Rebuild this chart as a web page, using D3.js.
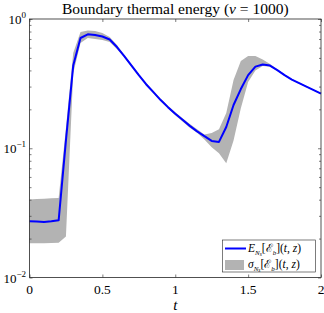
<!DOCTYPE html>
<html><head><meta charset="utf-8">
<script src="https://cdn.jsdelivr.net/npm/d3@7"></script>
<style>body{margin:0;background:#fff}svg{display:block}text{font-family:'Liberation Serif','Times New Roman',serif}</style>
</head><body>
<script>
const times = [0,0.05,0.1,0.15,0.2,0.25,0.3,0.35,0.4,0.45,0.5,0.55,0.6,0.65,0.7,0.75,0.8,0.85,0.9,0.95,1.0,1.05,1.1,1.15,1.2,1.25,1.3,1.35,1.4,1.45,1.5,1.55,1.6,1.65,1.7,1.75,1.8,1.85,1.9,1.95,2.0];
const meanE = [0.0272,0.0271,0.0269,0.0272,0.0277,0.115,0.436,0.713,0.761,0.752,0.732,0.694,0.607,0.517,0.436,0.368,0.313,0.272,0.236,0.208,0.185,0.166,0.149,0.135,0.124,0.114,0.112,0.146,0.216,0.287,0.368,0.428,0.444,0.436,0.402,0.368,0.340,0.319,0.300,0.282,0.265];
const upperE = [0.0402,0.0405,0.0406,0.041,0.0413,0.143,0.545,0.793,0.815,0.807,0.779,0.725,0.629,0.530,0.447,0.377,0.320,0.278,0.241,0.213,0.190,0.171,0.154,0.140,0.128,0.131,0.140,0.187,0.337,0.473,0.517,0.517,0.485,0.448,0.409,0.373,0.344,0.322,0.303,0.285,0.268];
const lowerE = [0.0184,0.0184,0.0184,0.0185,0.0186,0.0208,0.381,0.652,0.712,0.701,0.688,0.663,0.586,0.505,0.426,0.360,0.306,0.266,0.231,0.203,0.180,0.161,0.144,0.132,0.117,0.102,0.0915,0.0765,0.115,0.204,0.325,0.399,0.432,0.428,0.398,0.363,0.336,0.316,0.297,0.279,0.262];
const xTicks = [0,0.5,1,1.5,2];
const xTickLabels = ["0","0.5","1","1.5","2"];
const yTicks = [0.01,0.1,1];
const yTickExps = ["\u22122","\u22121","0"];

const W=324,H=313;
const L=29.5,R=321,T=19,B=277.5;
const AX='#262626';

const svg=d3.select("body").append("svg").attr("width",W).attr("height",H);
const x=d3.scaleLinear().domain([0,2]).range([L,R]);
const y=d3.scaleLog().domain([0.01,1]).range([B,T]);

const data=times.map((t,i)=>({t,m:meanE[i],u:upperE[i],l:lowerE[i]}));

svg.append("path").datum(data)
  .attr("d",d3.area().x(d=>x(d.t)).y0(d=>y(d.l)).y1(d=>y(d.u)))
  .attr("fill","#b3b3b3").attr("stroke","none");
svg.append("path").datum(data)
  .attr("d",d3.line().x(d=>x(d.t)).y(d=>y(d.m)))
  .attr("fill","none").attr("stroke","#0000ff").attr("stroke-width",2).attr("stroke-linejoin","round");

const minor=[];
for(const p of [0.01,0.1]) for(let k=2;k<=9;k++) minor.push(p*k);
function styleAxis(g){g.select(".domain").remove();g.selectAll("line").attr("stroke",AX).attr("stroke-width",0.6);}
svg.append("g").attr("transform",`translate(${L},0)`).call(d3.axisLeft(y).tickValues(minor).tickSize(-2).tickFormat("")).call(styleAxis);
svg.append("g").attr("transform",`translate(${R},0)`).call(d3.axisRight(y).tickValues(minor).tickSize(-2).tickFormat("")).call(styleAxis);
svg.append("g").attr("transform",`translate(${R},0)`).call(d3.axisRight(y).tickValues(yTicks).tickSize(-3).tickFormat("")).call(styleAxis);
svg.append("g").attr("transform",`translate(${L},0)`).call(d3.axisLeft(y).tickValues(yTicks).tickSize(-3).tickFormat("")).call(styleAxis);
yTicks.forEach((v,i)=>{
  const tx=svg.append("text").attr("x",26).attr("y",y(v)+5).attr("text-anchor","end")
    .attr("font-size",13).attr("fill","#000");
  tx.append("tspan").text("10");
  tx.append("tspan").attr("dy",-6).attr("font-size",9).text(yTickExps[i]);
});
svg.append("g").attr("transform",`translate(0,${B})`).call(d3.axisBottom(x).tickValues(xTicks).tickSize(-3).tickFormat("")).call(styleAxis);
svg.append("g").attr("transform",`translate(0,${T})`).call(d3.axisTop(x).tickValues(xTicks).tickSize(-3).tickFormat("")).call(styleAxis);
xTicks.forEach((v,i)=>{
  svg.append("text").attr("x",x(v)).attr("y",294).attr("text-anchor","middle")
    .attr("font-size",13.5).attr("fill","#000").text(xTickLabels[i]);
});
svg.append("rect").attr("x",L).attr("y",T).attr("width",R-L).attr("height",B-T)
  .attr("fill","none").attr("stroke",AX).attr("stroke-width",0.8);

const title=svg.append("text").attr("x",(L+R)/2).attr("y",14).attr("text-anchor","middle")
  .attr("font-size",15.5).attr("fill","#000");
title.append("tspan").text("Boundary thermal energy (");
title.append("tspan").attr("font-style","italic").text("\u03BD");
title.append("tspan").text(" = 1000)");
svg.append("text").attr("x",(L+R)/2).attr("y",310).attr("text-anchor","middle")
  .attr("font-size",15).attr("font-style","italic").attr("fill","#000").text("t");

const lg=svg.append("g");
lg.append("rect").attr("x",222.5).attr("y",240).attr("width",93).attr("height",32)
  .attr("fill","#fff").attr("stroke",AX).attr("stroke-width",0.6);
lg.append("line").attr("x1",225).attr("x2",246).attr("y1",248.5).attr("y2",248.5)
  .attr("stroke","#0000ff").attr("stroke-width",2);
lg.append("rect").attr("x",225).attr("y",260).attr("width",19).attr("height",10).attr("fill","#b3b3b3");
function legText(yy,sym){
  const t=lg.append("text").attr("x",248).attr("y",yy).attr("font-size",11.5).attr("fill","#000");
  t.append("tspan").attr("font-style","italic").text(sym);
  t.append("tspan").attr("font-style","italic").attr("font-size",7).attr("dy",2.5).text("N");
  t.append("tspan").attr("font-style","italic").attr("font-size",5.5).attr("dy",1.5).text("s");
  t.append("tspan").attr("dy",-4).text("[\u2130");
  t.append("tspan").attr("font-style","italic").attr("font-size",7).attr("dy",2.5).text("b");
  t.append("tspan").attr("dy",-2.5).text("](");
  t.append("tspan").attr("font-style","italic").text("t");
  t.append("tspan").text(", ");
  t.append("tspan").attr("font-style","italic").text("z");
  t.append("tspan").text(")");
}
legText(252,"E");
legText(268,"\u03C3");
</script>
</body></html>
